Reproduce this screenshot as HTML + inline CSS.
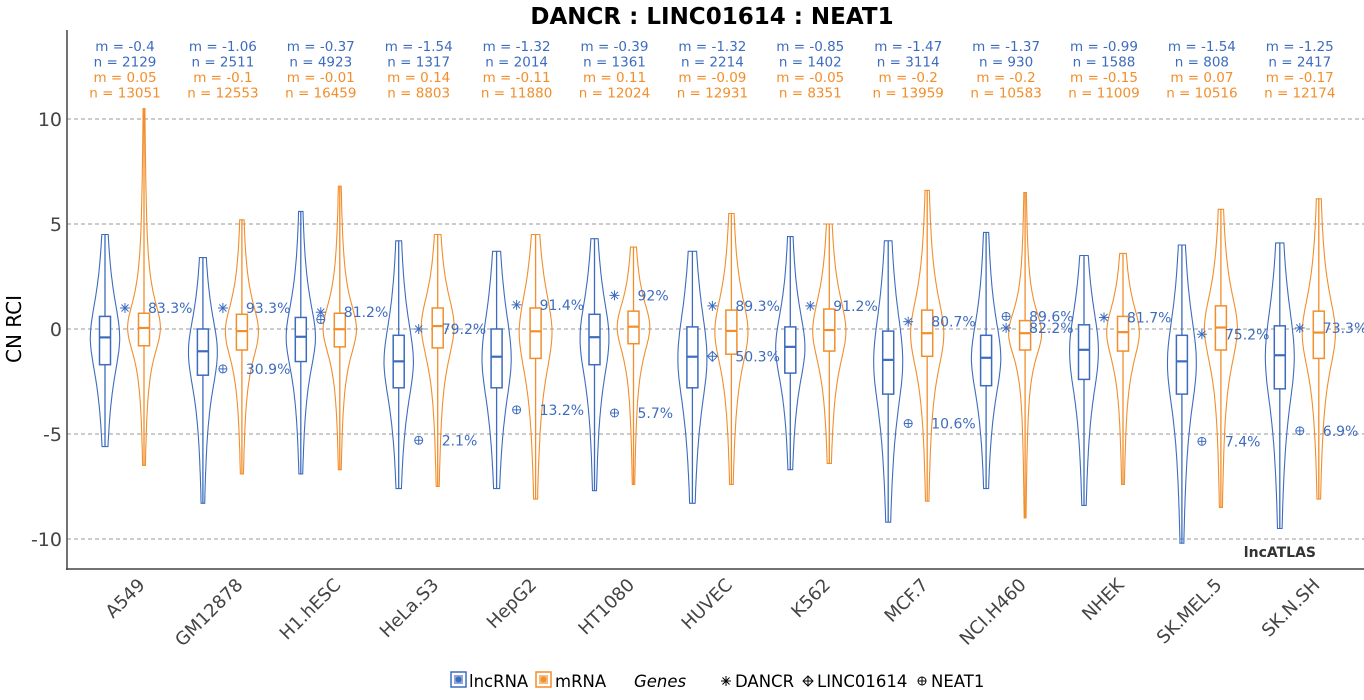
<!DOCTYPE html>
<html><head><meta charset="utf-8"><style>
body{margin:0;background:#fff;}
svg{display:block;font-family:"DejaVu Sans","Liberation Sans",sans-serif;}
</style></head><body>
<svg id="chart" width="1364" height="700"></svg>
<script>
const categories=["A549","GM12878","H1.hESC","HeLa.S3","HepG2","HT1080","HUVEC","K562","MCF.7","NCI.H460","NHEK","SK.MEL.5","SK.N.SH"];
const lncMedian=[-0.4,-1.06,-0.37,-1.54,-1.32,-0.39,-1.32,-0.85,-1.47,-1.37,-0.99,-1.54,-1.25];
const lncN=[2129,2511,4923,1317,2014,1361,2214,1402,3114,930,1588,808,2417];
const lncQ1=[-1.7,-2.2,-1.55,-2.8,-2.8,-1.7,-2.8,-2.1,-3.1,-2.7,-2.4,-3.1,-2.85];
const lncQ3=[0.6,0,0.55,-0.3,0,0.7,0.1,0.1,-0.1,-0.3,0.2,-0.3,0.15];
const lncMax=[4.5,3.4,5.6,4.2,3.7,4.3,3.7,4.4,4.2,4.6,3.5,4.0,4.1];
const lncMin=[-5.6,-8.3,-6.9,-7.6,-7.6,-7.7,-8.3,-6.7,-9.2,-7.6,-8.4,-10.2,-9.5];
const mrnaMedian=[0.05,-0.1,-0.01,0.14,-0.11,0.11,-0.09,-0.05,-0.2,-0.2,-0.15,0.07,-0.17];
const mrnaN=[13051,12553,16459,8803,11880,12024,12931,8351,13959,10583,11009,10516,12174];
const mrnaQ1=[-0.8,-1.0,-0.85,-0.9,-1.4,-0.7,-1.2,-1.05,-1.3,-1.0,-1.05,-1.0,-1.4];
const mrnaQ3=[0.75,0.7,0.75,1.0,1.0,0.85,0.9,0.95,0.9,0.4,0.6,1.1,0.85];
const mrnaMax=[10.5,5.2,6.8,4.5,4.5,3.9,5.5,5.0,6.6,6.5,3.6,5.7,6.2];
const mrnaMin=[-6.5,-6.9,-6.7,-7.5,-8.1,-7.4,-7.4,-6.4,-8.2,-9.0,-7.4,-8.5,-8.1];
const dancrVal=[1.0,1.0,0.8,0,1.15,1.6,1.1,1.1,0.35,0.05,0.55,-0.25,0.05];
const dancrPct=["83.3%","93.3%","81.2%","79.2%","91.4%","92%","89.3%","91.2%","80.7%","82.2%","81.7%","75.2%","73.3%"];
const neat1Val=[null,-1.9,0.45,-5.3,-3.85,-4.0,null,null,-4.5,0.6,null,-5.35,-4.85];
const neat1Pct=[null,"30.9%","",  "2.1%","13.2%","5.7%",null,null,"10.6%","89.6%",null,"7.4%","6.9%"];
const lincVal=[null,null,null,null,null,null,-1.3,null,null,null,null,null,null];
const lincPct=[null,null,null,null,null,null,"50.3%",null,null,null,null,null,null];
const yTicks=[10,5,0,-5,-10];

const NS="http://www.w3.org/2000/svg";
const svg=document.getElementById('chart');
const BLUE="#3d6cbf",ORANGE="#f28e2b";
const y=v=>329-21*v;
const xc=i=>125+97.9*i;
function el(tag,attrs,parent){const e=document.createElementNS(NS,tag);for(const k in attrs)e.setAttribute(k,attrs[k]);(parent||svg).appendChild(e);return e;}
function txt(s,attrs,parent){const e=el('text',attrs,parent);e.textContent=s;return e;}

let t=txt("DANCR : LINC01614 : NEAT1",{x:712,y:24,'text-anchor':'middle','font-size':23,'font-weight':'bold',fill:'#000'});

yTicks.forEach(v=>{
  const g=el('line',{x1:67,x2:1364,y1:y(v),y2:y(v),stroke:'#999','stroke-dasharray':'4,3','stroke-width':1});
  
  const l=txt(v,{x:62,y:y(v)+7,'text-anchor':'end','font-size':19,fill:'#444'});
  
});
let ax=el('line',{x1:67,x2:67,y1:30,y2:570,stroke:'#444','stroke-width':1.5});

let bx=el('line',{x1:66,x2:1364,y1:569,y2:569,stroke:'#444','stroke-width':1.5});

let yt=txt("CN RCI",{x:0,y:0,transform:'translate(21,329) rotate(-90)','text-anchor':'middle','font-size':20,fill:'#000'});

let wm=txt("lncATLAS",{x:1316,y:557,'text-anchor':'end','font-size':14,'font-weight':'bold',fill:'#333'});


function violin(cx,med,q1,q3,mn,mx,W,color,name){
  const g=el('g',{});
  
  
  const s=Math.max((q3-q1)/1.35,0.6)*1.1;
  const pts=[];const N=80;
  for(let k=0;k<=N;k++){
    const v=mx-(mx-mn)*k/N;
    const z=(v-med)/s;
    let w=W/(1+0.55*z*z)+1.2*(1-Math.abs(2*k/N-1))+0.5;
    pts.push([v,w]);
  }
  let d="M"+pts.map(p=>(cx+p[1]).toFixed(1)+","+y(p[0]).toFixed(1)).join(" L");
  d+=" L"+pts.slice().reverse().map(p=>(cx-p[1]).toFixed(1)+","+y(p[0]).toFixed(1)).join(" L")+"Z";
  el('path',{d:d,fill:'none',stroke:color,'stroke-width':1.1},g);
  el('line',{x1:cx,x2:cx,y1:y(mx),y2:y(mn),stroke:color,'stroke-width':1.3},g);
  el('rect',{x:cx-5.5,y:y(q3),width:11,height:y(q1)-y(q3),fill:'#fff',stroke:color,'stroke-width':1.5},g);
  el('line',{x1:cx-5.5,x2:cx+5.5,y1:y(med),y2:y(med),stroke:color,'stroke-width':2.2},g);
}
function asterisk(cx,cy,g,c){for(let a=0;a<4;a++){const r=a*Math.PI/4;el('line',{x1:cx-5*Math.cos(r),y1:cy-5*Math.sin(r),x2:cx+5*Math.cos(r),y2:cy+5*Math.sin(r),stroke:c||BLUE,'stroke-width':1},g);}}
function oplus(cx,cy,g,c){c=c||BLUE;el('circle',{cx:cx,cy:cy,r:4,fill:'none',stroke:c,'stroke-width':1},g);el('line',{x1:cx-4,x2:cx+4,y1:cy,y2:cy,stroke:c},g);el('line',{x1:cx,x2:cx,y1:cy-4,y2:cy+4,stroke:c},g);}
function diamondPlus(cx,cy,g,c){el('path',{d:`M${cx},${cy-5} L${cx+5},${cy} L${cx},${cy+5} L${cx-5},${cy}Z M${cx-5},${cy} H${cx+5} M${cx},${cy-5} V${cy+5}`,fill:'none',stroke:c||BLUE,'stroke-width':1},g);}

categories.forEach((c,i)=>{
  const cx=xc(i);
  violin(cx-20,lncMedian[i],lncQ1[i],lncQ3[i],lncMin[i],lncMax[i],13,BLUE,'lncrna-violin-'+c);
  violin(cx+19,mrnaMedian[i],mrnaQ1[i],mrnaQ3[i],mrnaMin[i],mrnaMax[i],15,ORANGE,'mrna-violin-'+c);
  const lines=[["m = "+lncMedian[i],BLUE],["n = "+lncN[i],BLUE],["m = "+mrnaMedian[i],ORANGE],["n = "+mrnaN[i],ORANGE]];
  lines.forEach((l,j)=>{const e=txt(l[0],{x:cx,y:51+15.5*j,'text-anchor':'middle','font-size':13.5,fill:l[1]});
    });
  const gg=el('g',{});
  
  
  asterisk(cx,y(dancrVal[i]),gg);
  txt(dancrPct[i],{x:cx+23,y:y(dancrVal[i])+5,'font-size':14,fill:BLUE},gg);
  if(neat1Val[i]!==null){oplus(cx,y(neat1Val[i]),gg);if(neat1Pct[i])txt(neat1Pct[i],{x:cx+23,y:y(neat1Val[i])+5,'font-size':14,fill:BLUE},gg);}
  if(lincVal[i]!==null){diamondPlus(cx,y(lincVal[i]),gg);txt(lincPct[i],{x:cx+23,y:y(lincVal[i])+5,'font-size':14,fill:BLUE},gg);}
  const xl=txt(c,{x:0,y:0,transform:`translate(${cx+21},${586}) rotate(-45)`,'text-anchor':'end','font-size':18,fill:'#444'});
  
});

const lg=el('g',{});


function key(x,color){el('rect',{x:x,y:672,width:15,height:15,fill:'#fff',stroke:color,'stroke-width':1.5},lg);el('rect',{x:x+3,y:675,width:9,height:9,fill:color,opacity:0.6},lg);el('circle',{cx:x+7.5,cy:679.5,r:3,fill:color},lg);}
function ltxt(s,x,extra){const a={x:x,y:687,'font-size':16.5,fill:'#000'};Object.assign(a,extra||{});return txt(s,a,lg);}
key(451,BLUE);ltxt("lncRNA",469);
key(536,ORANGE);ltxt("mRNA",555);
ltxt("Genes",634,{'font-style':'italic'});
asterisk(726,681,lg,'#000');
ltxt("DANCR",735);
diamondPlus(808,681,lg,'#000');
ltxt("LINC01614",817);
oplus(922,681,lg,'#000');
ltxt("NEAT1",931);
</script>
</body></html>
